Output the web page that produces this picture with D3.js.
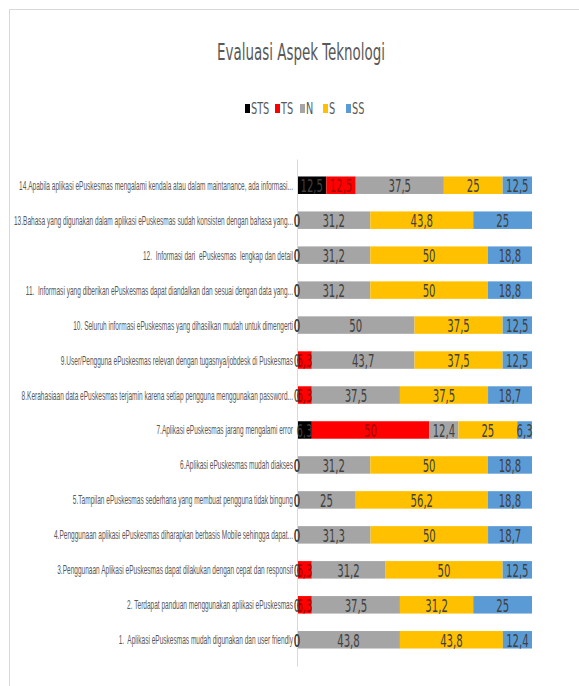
<!DOCTYPE html>
<html>
<head>
<meta charset="utf-8">
<script src="https://cdn.jsdelivr.net/npm/d3@7"></script>
<style>
  body { margin: 0; background: #fff; }
  svg { display: block; font-family: "Liberation Sans Narrow", "DejaVu Sans Condensed", sans-serif; }
  .cat { white-space: pre; }
</style>
</head>
<body>
<svg id="chart"></svg>
<script>
// categories, top to bottom as in the picture
const categories = [
  "14.Apabila aplikasi ePuskesmas mengalami kendala atau dalam maintanance, ada informasi...",
  "13.Bahasa yang digunakan dalam aplikasi ePuskesmas sudah konsisten dengan bahasa yang...",
  "12.  Informasi dari  ePuskesmas  lengkap dan detail",
  "11.  Informasi yang diberikan ePuskesmas dapat diandalkan dan sesuai dengan data yang...",
  "10. Seluruh informasi ePuskesmas yang dihasilkan mudah untuk dimengerti",
  "9.User/Pengguna ePuskesmas relevan dengan tugasnya/jobdesk di Puskesmas",
  "8.Kerahasiaan data ePuskesmas terjamin karena setiap pengguna menggunakan password...",
  "7.Aplikasi ePuskesmas jarang mengalami error",
  "6.Aplikasi ePuskesmas mudah diakses",
  "5.Tampilan ePuskesmas sederhana yang membuat pengguna tidak bingung",
  "4.Penggunaan aplikasi ePuskesmas diharapkan berbasis Mobile sehingga dapat...",
  "3.Penggunaan Aplikasi ePuskesmas dapat dilakukan dengan cepat dan responsif",
  "2. Terdapat panduan menggunakan aplikasi ePuskesmas",
  "1.  Aplikasi ePuskesmas mudah digunakan dan user friendly"
];
const seriesNames = ["STS", "TS", "N", "S", "SS"];
const STS = [12.5, 0, 0, 0, 0, 0, 0, 6.3, 0, 0, 0, 0, 0, 0];
const TS  = [12.5, 0, 0, 0, 0, 6.3, 6.3, 50, 0, 0, 0, 6.3, 6.3, 0];
const N   = [37.5, 31.2, 31.2, 31.2, 50, 43.7, 37.5, 12.4, 31.2, 25, 31.3, 31.2, 37.5, 43.8];
const S   = [25, 43.8, 50, 50, 37.5, 37.5, 37.5, 25, 50, 56.2, 50, 50, 31.2, 43.8];
const SS  = [12.5, 25, 18.8, 18.8, 12.5, 12.5, 18.7, 6.3, 18.8, 18.8, 18.7, 12.5, 25, 12.4];
const title = "Evaluasi Aspek Teknologi";

const colors = { STS: "#000000", TS: "#ff0000", N: "#a5a5a5", S: "#ffc000", SS: "#5b9bd5" };
const labelColors = { STS: "#404040", TS: "#a00000", N: "#404040", S: "#404040", SS: "#404040" };

const W = 579, H = 686;
const margin = { top: 159, right: 47, bottom: 20, left: 297 };

const svg = d3.select("#chart").attr("width", W).attr("height", H);

// frame
svg.append("line").attr("x1", 9).attr("x2", W).attr("y1", 9.5).attr("y2", 9.5)
  .attr("stroke", "#d9d9d9");
svg.append("line").attr("x1", 9.5).attr("x2", 9.5).attr("y1", 9).attr("y2", H)
  .attr("stroke", "#d9d9d9");

const rows = categories.map((c, i) => ({
  cat: c, STS: STS[i], TS: TS[i], N: N[i], S: S[i], SS: SS[i]
}));
const stacked = d3.stack().keys(seriesNames)(rows);

const x = d3.scaleLinear().domain([0, 100]).range([margin.left, W - margin.right]);
const y = d3.scaleBand().domain(categories)
  .range([margin.top, H - margin.bottom]).padding(0.5);

// text squeezed sideways, as in the picture
function squeezed(g, tx, ty, sx) {
  return g.append("text")
    .attr("transform", `translate(${tx},${ty}) scale(${sx},1)`);
}

// title
squeezed(svg, 301, 60, 0.65).text(title)
  .attr("text-anchor", "middle").attr("font-size", 23).attr("fill", "#595959");

// legend
const legendX = [245, 275, 300, 323, 346];
const lg = svg.append("g");
seriesNames.forEach((k, i) => {
  lg.append("rect").attr("x", legendX[i]).attr("y", 104).attr("width", 5).attr("height", 9)
    .attr("fill", colors[k]);
  squeezed(lg, legendX[i] + 6, 114, 0.72).text(k).attr("font-size", 15).attr("fill", "#595959");
});

// bars
const layer = svg.append("g").selectAll("g").data(stacked).join("g")
  .attr("fill", (d) => colors[d.key]);
layer.selectAll("rect").data((d) => d).join("rect")
  .attr("x", (d) => x(d[0]))
  .attr("width", (d) => x(d[1]) - x(d[0]))
  .attr("y", (d) => y(d.data.cat))
  .attr("height", y.bandwidth());

// axis
const yAxis = d3.axisLeft(y).tickSize(0).tickPadding(4);
const ax = svg.append("g").attr("transform", `translate(${margin.left},0)`).call(yAxis);
ax.select(".domain").attr("stroke", "#d9d9d9");
ax.selectAll(".tick text").remove();
ax.selectAll(".tick").each(function(c) {
  squeezed(d3.select(this), -4, 4.5, 0.545).text(c).attr("class", "cat")
    .attr("text-anchor", "end").attr("font-size", 12).attr("fill", "#595959");
});

// value labels; zero labels go last so the "0" sits on top
const labels = [];
stacked.forEach((s) => s.forEach((d) => labels.push({ key: s.key, d, v: d.data[s.key] })));
labels.sort((a, b) => (a.v === 0) - (b.v === 0));
const lbl = svg.append("g");
labels.forEach(({ key, d, v }) => {
  squeezed(lbl, (x(d[0]) + x(d[1])) / 2, y(d.data.cat) + y.bandwidth() / 2 + 7, 0.66)
    .text(String(v).replace(".", ","))
    .attr("text-anchor", "middle").attr("font-size", 17)
    .attr("fill", v === 0 ? "#404040" : labelColors[key]);
});
</script>
</body>
</html>
